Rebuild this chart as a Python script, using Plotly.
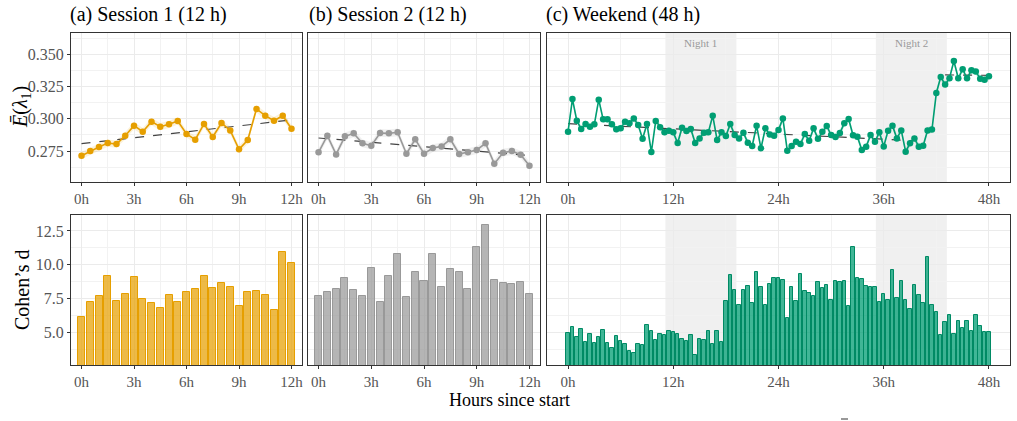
import numpy as np
import plotly.graph_objects as go

# ---------------- data ----------------
hours_a = list(np.arange(0, 12.01, 0.5))
hours_c = list(np.arange(0, 48.01, 0.5))

energy_a = [0.2714, 0.2750, 0.2781, 0.2812, 0.2804, 0.2869, 0.2947, 0.2900, 0.2978, 0.2939,
            0.2957, 0.2983, 0.2882, 0.2838, 0.2960, 0.2859, 0.2967, 0.2910, 0.2763, 0.2835,
            0.3076, 0.3024, 0.2985, 0.3024, 0.2923]
energy_b = [0.2740, 0.2869, 0.2724, 0.2864, 0.2887, 0.2810, 0.2791, 0.2890, 0.2887, 0.2895,
            0.2729, 0.2841, 0.2729, 0.2773, 0.2786, 0.2841, 0.2727, 0.2740, 0.2758, 0.2810,
            0.2652, 0.2737, 0.2750, 0.2722, 0.2636]
energy_c = [0.2900, 0.3153, 0.2985, 0.2921, 0.2960, 0.2939, 0.2957, 0.3148, 0.2996, 0.2996,
            0.2957, 0.2918, 0.2926, 0.2978, 0.2965, 0.3003, 0.2952, 0.2846, 0.2960, 0.2742,
            0.2983, 0.2934, 0.2895, 0.2908, 0.2895, 0.2812, 0.2931, 0.2905, 0.2921, 0.2812,
            0.2848, 0.2892, 0.2895, 0.3024, 0.2835, 0.2895, 0.2866, 0.2960, 0.2874, 0.2848,
            0.2892, 0.2815, 0.2789, 0.2947, 0.2771, 0.2926, 0.2879, 0.2869, 0.2913, 0.3003,
            0.2753, 0.2789, 0.2822, 0.2804, 0.2882, 0.2830, 0.2926, 0.2846, 0.2900, 0.2944,
            0.2874, 0.2859, 0.2890, 0.2965, 0.2998, 0.2872, 0.2861, 0.2758, 0.2784, 0.2874,
            0.2822, 0.2895, 0.2786, 0.2908, 0.2947, 0.2848, 0.2910, 0.2745, 0.2810, 0.2848,
            0.2784, 0.2791, 0.2910, 0.2916, 0.3200, 0.3324, 0.3265, 0.3314, 0.3448, 0.3314,
            0.3384, 0.3314, 0.3376, 0.3366, 0.3311, 0.3303, 0.3329]

ribbon_a = 0.0028
ribbon_b = 0.0030
ribbon_c = 0.0026

cohen_a = [6.16, 7.27, 7.69, 9.17, 7.32, 7.81, 9.07, 7.44, 7.17, 6.83,
           7.76, 7.22, 7.96, 8.23, 9.17, 8.28, 8.63, 8.38, 6.97, 7.98,
           8.08, 7.76, 6.63, 10.92, 10.11]
cohen_b = [7.71, 7.96, 8.18, 9.00, 8.13, 7.69, 9.76, 7.24, 9.19, 10.77,
           7.59, 9.49, 8.82, 10.77, 8.33, 9.66, 9.49, 8.23, 11.34, 12.92,
           8.90, 8.68, 8.55, 8.73, 7.86]
cohen_c = [4.93, 5.37, 4.68, 5.22, 4.28, 4.90, 4.18, 4.68, 5.15, 4.18,
           3.86, 4.75, 4.38, 4.14, 3.59, 3.49, 4.11, 4.06, 5.52, 5.07,
           4.43, 4.88, 4.80, 5.12, 5.05, 4.88, 4.48, 4.33, 4.78, 3.30,
           4.48, 4.46, 5.12, 4.11, 5.12, 4.26, 7.32, 9.27, 8.16, 7.00,
           8.11, 8.40, 7.15, 9.47, 8.35, 7.05, 8.58, 9.05, 9.00, 8.87,
           6.06, 8.33, 7.32, 9.32, 8.06, 7.89, 7.69, 8.75, 8.26, 8.48,
           7.37, 8.82, 8.72, 8.77, 6.95, 11.29, 9.00, 8.97, 8.40, 8.38,
           8.33, 7.27, 7.81, 7.39, 9.61, 7.52, 8.82, 7.39, 6.70, 8.48,
           7.74, 7.17, 10.60, 7.00, 6.48, 4.83, 5.74, 6.26, 4.88, 5.86,
           5.34, 5.86, 5.07, 6.26, 5.47, 5.02, 5.00]

night_starts = [11.1, 35.1]
night_ends = [19.2, 43.2]
night_labels = ["Night 1", "Night 2"]
trend_segments_c = [(0.0, 39.5), (43.0, 48.0)]

ticks_12 = [0, 3, 6, 9, 12]
ticks_48 = [0, 12, 24, 36, 48]
panel_titles = ["(a) Session 1 (12 h)", "(b) Session 2 (12 h)", "(c) Weekend (48 h)"]

# ---------------- style ----------------
W, H = 1017, 421
FONT = "Liberation Serif"
TICKCOL = "#555555"
GRID = "#EBEBEB"
BORDER = "#333333"

col_a, col_b, col_c = "#E69F00", "#999999", "#009E73"
rib_a, rib_b, rib_c = "rgba(230,159,0,0.15)", "rgba(153,153,153,0.15)", "rgba(0,158,115,0.15)"
bar_a, bar_b, bar_c = "rgba(230,159,0,0.72)", "rgba(153,153,153,0.72)", "rgba(0,158,115,0.75)"
barline_a, barline_b, barline_c = "#E69F00", "#999999", "#008A64"

xdom = [(71 / W, 302 / W), (308 / W, 540 / W), (547 / W, 1010 / W)]
ydom_top = (1 - 182 / H, 1 - 33 / H)
ydom_bot = (1 - 365 / H, 1 - 215 / H)

fig = go.Figure()


def add_line_panel(ax, x, y, col, rib, halfw, segments):
    xs = "x" if ax == 1 else f"x{ax}"
    ys = "y" if ax == 1 else f"y{ax}"
    x = np.array(x)
    y = np.array(y)
    fig.add_trace(go.Scatter(x=list(x) + list(x[::-1]), y=list(y + halfw) + list((y - halfw)[::-1]),
                             fill="toself", fillcolor=rib, line=dict(width=0), mode="lines",
                             hoverinfo="skip", showlegend=False, xaxis=xs, yaxis=ys))
    for (s0, s1) in segments:
        m = (x >= s0) & (x <= s1)
        k, b = np.polyfit(x[m], y[m], 1)
        xx = np.array([s0, s1])
        fig.add_trace(go.Scatter(x=xx, y=k * xx + b, mode="lines",
                                 line=dict(color="#444444", width=1.2, dash="dash"),
                                 showlegend=False, xaxis=xs, yaxis=ys))
    fig.add_trace(go.Scatter(x=x, y=y, mode="lines+markers",
                             line=dict(color=col, width=1.6),
                             marker=dict(color=col, size=6.5),
                             showlegend=False, xaxis=xs, yaxis=ys))


def add_bar_panel(ax, x, y, fill, line):
    xs = f"x{ax}"
    ys = f"y{ax}"
    fig.add_trace(go.Bar(x=x, y=y, width=0.4, marker=dict(color=fill, line=dict(color=line, width=1)),
                         showlegend=False, xaxis=xs, yaxis=ys))


add_line_panel(1, hours_a, energy_a, col_a, rib_a, ribbon_a, [(0.0, 12.0)])
add_line_panel(2, hours_a, energy_b, col_b, rib_b, ribbon_b, [(0.0, 12.0)])
add_line_panel(3, hours_c, energy_c, col_c, rib_c, ribbon_c, trend_segments_c)
add_bar_panel(4, hours_a, cohen_a, bar_a, barline_a)
add_bar_panel(5, hours_a, cohen_b, bar_b, barline_b)
add_bar_panel(6, hours_c, cohen_c, bar_c, barline_c)

TICKSIZE = 15


def xaxis_cfg(dom, big, anchor):
    return dict(domain=list(dom), anchor=anchor,
                range=[-2.4, 50.4] if big else [-0.6, 12.6],
                tickmode="array", tickvals=ticks_48 if big else ticks_12,
                ticktext=[f"{t}h" for t in (ticks_48 if big else ticks_12)],
                minor=dict(dtick=6 if big else 1.5, tick0=0, showgrid=True, gridcolor="#F2F2F2",
                           gridwidth=1, ticks=""),
                showgrid=True, gridcolor=GRID, gridwidth=1.2, zeroline=False,
                showline=True, linecolor=BORDER, linewidth=1, mirror=True,
                ticks="outside", ticklen=3, tickcolor=BORDER, tickwidth=1,
                tickfont=dict(family=FONT, size=TICKSIZE, color=TICKCOL))


def yaxis_cfg(dom, top, anchor, labels):
    return dict(domain=list(dom), anchor=anchor,
                range=[0.251, 0.3665] if top else [2.58, 13.68],
                dtick=0.025 if top else 2.5, tick0=0,
                tickformat=".3f" if top else ".1f",
                minor=dict(dtick=0.0125 if top else 1.25, tick0=0, showgrid=True,
                           gridcolor="#F2F2F2", gridwidth=1, ticks=""),
                showgrid=True, gridcolor=GRID, gridwidth=1.2, zeroline=False,
                showline=True, linecolor=BORDER, linewidth=1, mirror=True,
                ticks="outside" if labels else "", ticklen=3, tickcolor=BORDER,
                showticklabels=labels,
                tickfont=dict(family=FONT, size=TICKSIZE + 1, color=TICKCOL))


layout = dict(width=W, height=H, margin=dict(l=0, r=0, t=0, b=0),
              paper_bgcolor="white", plot_bgcolor="white", bargap=0)
for i in range(3):
    n_top = i + 1
    n_bot = i + 4
    kx = "xaxis" if n_top == 1 else f"xaxis{n_top}"
    ky = "yaxis" if n_top == 1 else f"yaxis{n_top}"
    layout[kx] = xaxis_cfg(xdom[i], i == 2, "y" if n_top == 1 else f"y{n_top}")
    layout[ky] = yaxis_cfg(ydom_top, True, "x" if n_top == 1 else f"x{n_top}", i == 0)
    layout[f"xaxis{n_bot}"] = xaxis_cfg(xdom[i], i == 2, f"y{n_bot}")
    layout[f"yaxis{n_bot}"] = yaxis_cfg(ydom_bot, False, f"x{n_bot}", i == 0)
fig.update_layout(**layout)

shapes = []
annotations = []
for s, e, lab in zip(night_starts, night_ends, night_labels):
    for ax in (3, 6):
        shapes.append(dict(type="rect", xref=f"x{ax}", yref=f"y{ax} domain", x0=s, x1=e, y0=0, y1=1,
                           fillcolor="#F0F0F0", line=dict(width=0), layer="below"))
    annotations.append(dict(x=(s + e) / 2, y=1, xref="x3", yref="y3 domain", yanchor="top",
                            xanchor="center", yshift=-2, text=lab, showarrow=False,
                            font=dict(family=FONT, size=11, color="#999999")))

# small stray bar mark near the bottom edge
shapes.append(dict(type="line", xref="paper", yref="paper", x0=841 / W, x1=848 / W,
                   y0=1 - 419 / H, y1=1 - 419 / H, line=dict(color="#777777", width=1.5)))

title_x = [68, 307, 544]
for tx, t in zip(title_x, panel_titles):
    annotations.append(dict(x=tx / W, y=1 - 14 / H, xref="paper", yref="paper", xanchor="left",
                            yanchor="middle", text=t, showarrow=False,
                            font=dict(family=FONT, size=20, color="black")))

annotations.append(dict(x=22 / W, y=1 - 107 / H, xref="paper", yref="paper", textangle=-90,
                        xanchor="center", yanchor="middle",
                        text="<i>Ē</i>(<i>λ</i><sub>1</sub>)", showarrow=False,
                        font=dict(family=FONT, size=20, color="black")))
annotations.append(dict(x=22 / W, y=1 - 290 / H, xref="paper", yref="paper", textangle=-90,
                        xanchor="center", yanchor="middle",
                        text="Cohen’s d", showarrow=False,
                        font=dict(family=FONT, size=20, color="black")))
annotations.append(dict(x=509 / W, y=1 - 400 / H, xref="paper", yref="paper",
                        xanchor="center", yanchor="middle",
                        text="Hours since start", showarrow=False,
                        font=dict(family=FONT, size=18, color="black")))

fig.update_layout(shapes=shapes, annotations=annotations)
fig.write_html("out.html")
